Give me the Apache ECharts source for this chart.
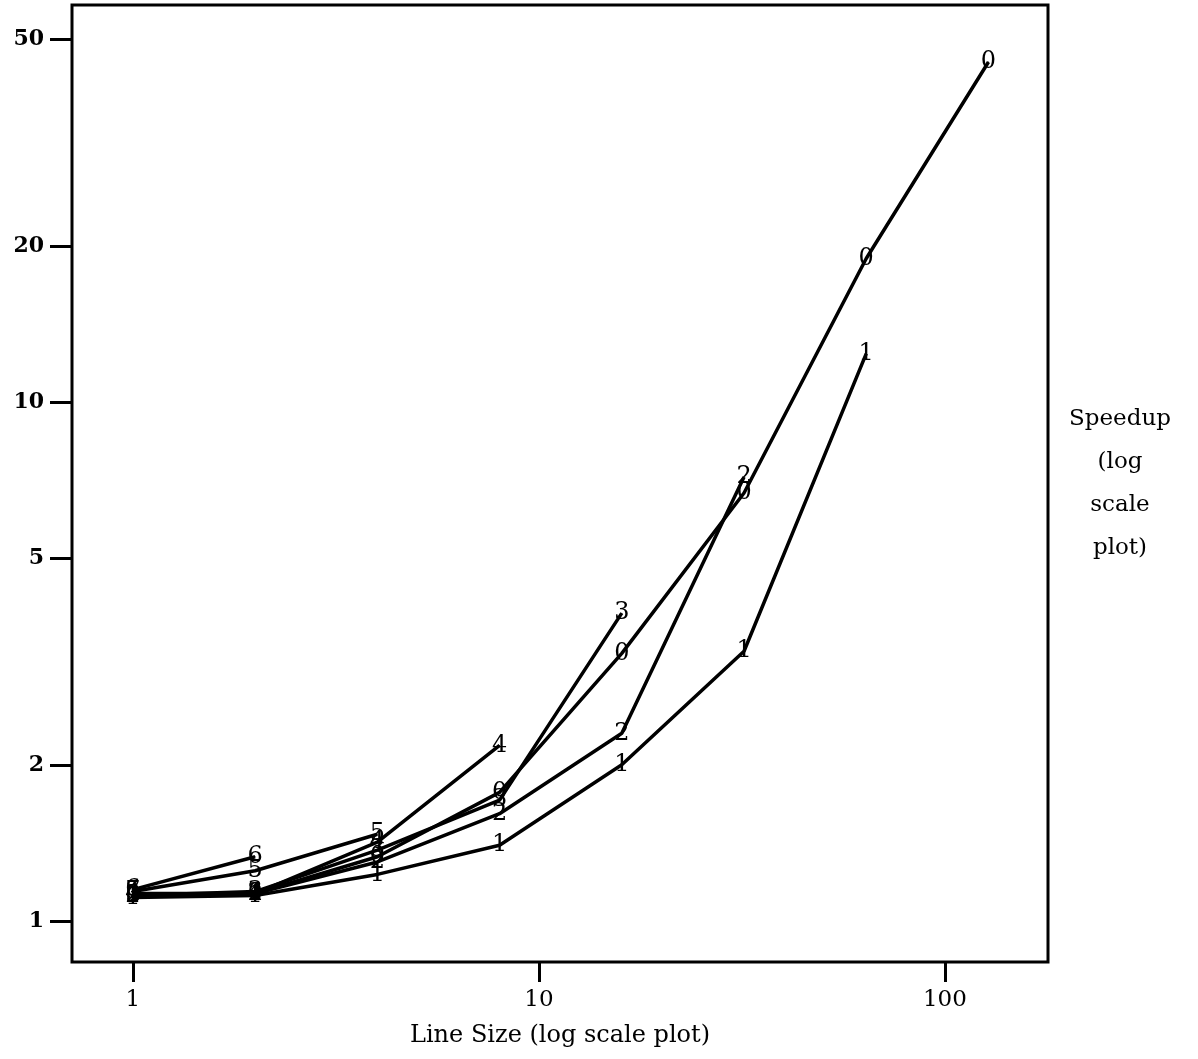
<!DOCTYPE html>
<html>
<head>
<meta charset="utf-8">
<title>Speedup vs Line Size</title>
<script src="https://cdn.jsdelivr.net/npm/echarts@6/dist/echarts.min.js"></script>
<style>
  html, body { margin: 0; padding: 0; background: #fff; }
  #chart { width: 1198px; height: 1059px; }
</style>
</head>
<body>
<div id="chart"></div>
<script>
// line sizes (x) — every curve starts at 1 and doubles
const lineSizes = [1, 2, 4, 8, 16, 32, 64, 128];

// speedup per curve, curve n is labelled with the digit n
const speedup0 = [1.12, 1.13, 1.33, 1.77, 3.28, 6.68, 18.9, 45.2];
const speedup1 = [1.11, 1.12, 1.23, 1.40, 2.00, 3.31, 12.4];
const speedup2 = [1.12, 1.13, 1.30, 1.61, 2.30, 7.17];
const speedup3 = [1.12, 1.14, 1.37, 1.71, 3.92];
const speedup4 = [1.13, 1.13, 1.42, 2.18];
const speedup5 = [1.14, 1.25, 1.47];
const speedup6 = [1.15, 1.33];
const speedup7 = [1.14];

// tick labels
const xTicks = [1, 10, 100];
const yTicks = [1, 2, 5, 10, 20, 50];

const curves = [speedup0, speedup1, speedup2, speedup3, speedup4, speedup5, speedup6, speedup7];

const FONT = 'DejaVu Serif';
const lg = Math.log10;

const chart = echarts.init(document.getElementById('chart'), null, { renderer: 'canvas' });

const series = curves.map((vals, i) => ({
  name: String(i),
  type: 'line',
  data: vals.map((v, k) => [lg(lineSizes[k]), lg(v)]),
  symbol: 'circle',
  symbolSize: 1,
  itemStyle: { color: '#000' },
  lineStyle: { color: '#000', width: 3.5 },
  label: {
    show: true,
    position: 'inside',
    formatter: String(i),
    fontFamily: FONT,
    fontSize: 24,
    color: '#000',
  },
  z: 3,
}));

chart.setOption({
  animation: false,
  backgroundColor: '#fff',
  grid: {
    show: true,
    left: 72,
    right: 150,
    top: 5,
    bottom: 97,
    borderColor: '#000',
    borderWidth: 3,
    backgroundColor: 'transparent',
  },
  xAxis: {
    type: 'value',
    min: lg(0.708),
    max: lg(179.4),
    splitLine: { show: false },
    axisLine: { show: false, onZero: false },
    axisTick: {
      show: true,
      customValues: xTicks.map(lg),
      length: 20,
      lineStyle: { color: '#000', width: 3 },
    },
    axisLabel: {
      customValues: xTicks.map(lg),
      formatter: v => String(Math.round(Math.pow(10, v))),
      margin: 27,
      fontFamily: FONT,
      fontSize: 23,
      color: '#000',
    },
    name: 'Line Size (log scale plot)',
    nameLocation: 'middle',
    nameGap: 62,
    nameTextStyle: { fontFamily: FONT, fontSize: 24, color: '#000' },
  },
  yAxis: {
    type: 'value',
    min: lg(0.834),
    max: lg(58.2),
    splitLine: { show: false },
    axisLine: { show: false, onZero: false },
    axisTick: {
      show: true,
      customValues: yTicks.map(lg),
      length: 22,
      lineStyle: { color: '#000', width: 3 },
    },
    axisLabel: {
      customValues: yTicks.map(lg),
      formatter: v => String(Math.round(Math.pow(10, v))),
      margin: 28,
      fontFamily: FONT,
      fontSize: 22,
      fontWeight: 'bold',
      color: '#000',
    },
  },
  graphic: [{
    type: 'text',
    x: 1120,
    y: 398,
    style: {
      text: 'Speedup\n(log\nscale\nplot)',
      align: 'center',
      verticalAlign: 'top',
      font: '23px "DejaVu Serif"',
      lineHeight: 43,
      fill: '#000',
    },
  }],
  series: series,
});
</script>
</body>
</html>
